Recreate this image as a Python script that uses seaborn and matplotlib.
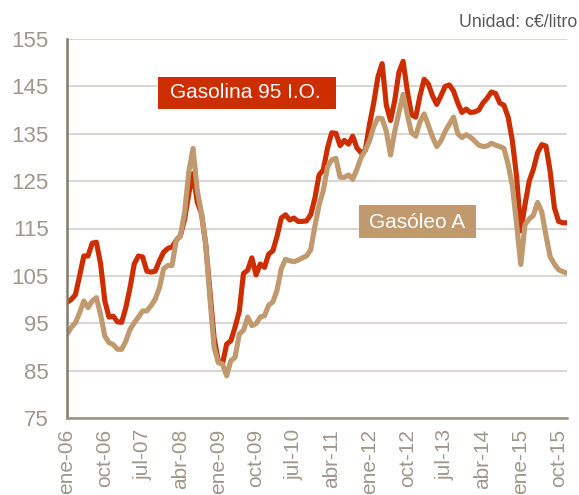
import numpy as np
import pandas as pd
import matplotlib
matplotlib.use("Agg")
import matplotlib.pyplot as plt
from matplotlib.patches import Rectangle
import seaborn as sns

# Precios medios mensuales (c€/litro), enero 2006 - diciembre 2015
gasolina = [
    99.4, 100.0, 101.0, 105.0, 109.2, 109.2, 111.9, 112.1, 107.5, 99.7,
    96.3, 96.5, 95.3, 95.2, 98.3, 102.5, 107.5, 109.2, 109.0, 106.0,
    105.8, 106.0, 108.2, 110.0, 110.8, 111.1, 112.5, 113.5, 117.0, 122.4,
    126.6, 120.6, 118.2, 111.8, 101.9, 92.0, 87.1, 86.4, 90.6, 91.3,
    94.2, 97.5, 105.5, 106.2, 108.8, 105.2, 107.5, 106.8, 109.6, 110.3,
    113.4, 117.2, 117.9, 116.8, 117.2, 116.5, 116.5, 116.6, 117.9, 121.4,
    126.3, 127.4, 132.0, 135.2, 135.1, 132.5, 133.6, 132.8, 134.5, 132.0,
    131.0, 131.5, 137.0, 141.5, 147.0, 149.8, 141.0, 137.8, 142.0, 148.0,
    150.3, 144.0, 139.0, 138.5, 143.0, 146.5, 145.5, 143.0, 141.2, 143.0,
    145.0, 145.3, 144.0, 141.5, 139.5, 140.2, 139.5, 139.6, 140.0, 141.5,
    142.5, 143.8, 143.5, 141.5, 141.0, 138.5, 133.5, 126.0, 114.5, 120.0,
    125.0, 127.5, 131.0, 132.7, 132.4, 127.0, 119.4, 116.5, 116.2, 116.2,
]
gasoleo = [
    92.7, 94.1, 95.1, 97.2, 99.7, 98.3, 99.7, 100.4, 96.8, 92.3,
    90.9, 90.5, 89.5, 89.5, 91.2, 93.7, 95.1, 96.3, 97.6, 97.6,
    98.7, 100.1, 102.5, 106.5, 107.2, 107.2, 112.5, 113.5, 118.5, 127.0,
    131.9, 123.1, 118.2, 111.8, 100.5, 89.9, 86.7, 86.4, 83.9, 87.1,
    87.8, 92.7, 93.5, 96.3, 94.5, 94.9, 96.3, 96.6, 98.8, 99.5,
    102.0, 106.5, 108.5, 108.2, 108.0, 108.3, 108.8, 109.2, 110.5, 115.5,
    120.0, 123.0, 128.0, 129.5, 129.8, 125.8, 125.8, 126.3, 125.4, 127.5,
    130.0, 131.5, 133.5, 136.5, 138.3, 138.2, 135.5, 130.5, 135.5, 139.5,
    143.3, 139.0, 135.2, 134.5, 137.5, 139.2, 136.8, 134.3, 132.3, 133.5,
    135.5, 137.0, 138.5, 135.0, 134.2, 134.8, 134.3, 133.5, 132.6, 132.3,
    132.4, 133.0, 132.6, 132.3, 131.9, 128.5, 124.0, 116.0, 107.4, 115.8,
    117.0, 117.8, 120.5, 118.5, 113.5, 109.0, 107.5, 106.3, 105.9, 105.6,
]
tick_labels = ["ene-06", "oct-06", "jul-07", "abr-08", "ene-09", "oct-09",
               "jul-10", "abr-11", "ene-12", "oct-12", "jul-13", "abr-14",
               "ene-15", "oct-15"]
y_ticks = [75, 85, 95, 105, 115, 125, 135, 145, 155]

series_names = ["Gasolina 95 I.O.", "Gasóleo A"]
colors = {"Gasolina 95 I.O.": "#CC2E00", "Gasóleo A": "#C09A6E"}

sns.set_theme(style="white")
plt.rcParams["font.family"] = ["Liberation Sans", "DejaVu Sans"]

df = pd.DataFrame({"mes": np.arange(len(gasolina)),
                   series_names[0]: gasolina,
                   series_names[1]: gasoleo})
long_df = df.melt(id_vars="mes", var_name="producto", value_name="precio")

fig = plt.figure(figsize=(5.79, 4.95), dpi=100)
ax = fig.add_axes([67 / 579, 77 / 495, 500 / 579, 379 / 495])

sns.lineplot(data=long_df, x="mes", y="precio", hue="producto",
             hue_order=series_names, palette=colors, linewidth=3.7,
             legend=False, ax=ax, solid_joinstyle="round",
             solid_capstyle="round", zorder=3)

ax.set_xlim(0, len(gasolina) - 1)
ax.set_ylim(75, 155)
ax.set_yticks(y_ticks)
ax.set_xticks(np.arange(0, len(gasolina), 9)[:len(tick_labels)])
ax.set_xticklabels(tick_labels, rotation=90, va="top", ha="center")
ax.set_xlabel("")
ax.set_ylabel("")

label_color = "#A0968B"
ax.tick_params(axis="y", length=0, pad=13, labelsize=16, labelcolor=label_color)
ax.tick_params(axis="x", length=0, pad=8, labelsize=15, labelcolor=label_color)

ax.grid(axis="y", color="#D9D5D0", linewidth=1.4, zorder=0)
ax.grid(axis="x", visible=False)
for side in ("top", "right"):
    ax.spines[side].set_visible(False)
ax.spines["left"].set_color("#857A68")
ax.spines["left"].set_linewidth(1.8)
ax.spines["bottom"].set_color("#9C9083")
ax.spines["bottom"].set_linewidth(1.8)
ax.spines["left"].set_zorder(4)
ax.spines["bottom"].set_zorder(4)

# Series name boxes
ax.add_patch(Rectangle((0.182, 0.815), 0.356, 0.085, transform=ax.transAxes,
                       facecolor=colors["Gasolina 95 I.O."], edgecolor="none",
                       zorder=5))
ax.text(0.357, 0.858, "Gasolina 95 I.O.", transform=ax.transAxes,
        ha="center", va="center", color="white", fontsize=15, zorder=6)
ax.add_patch(Rectangle((0.584, 0.475), 0.234, 0.087, transform=ax.transAxes,
                       facecolor=colors["Gasóleo A"], edgecolor="none",
                       zorder=5))
ax.text(0.700, 0.517, "Gasóleo A", transform=ax.transAxes,
        ha="center", va="center", color="white", fontsize=15, zorder=6)

fig.text(0.9965, 0.955, "Unidad: c€/litro", ha="right", va="center",
         fontsize=12.8, color="#595959")

fig.savefig("out.png", dpi=100)
